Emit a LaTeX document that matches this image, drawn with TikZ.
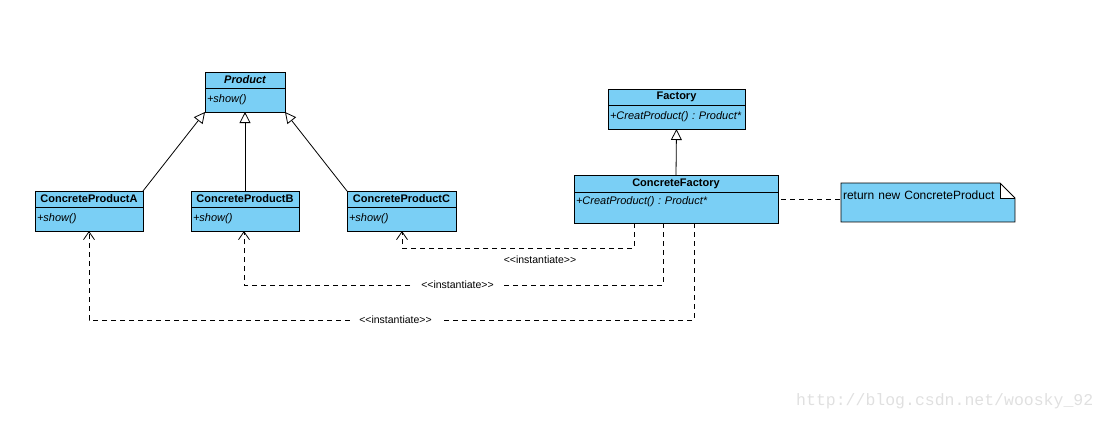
\documentclass[tikz,border=0pt]{standalone}
\usepackage{fontspec}
\setmainfont{Liberation Sans}
\setmonofont{Liberation Mono}
\newfontfamily\stereofont{Liberation Sans}[Ligatures=TeXOff]
\usetikzlibrary{calc,positioning}
\usetikzlibrary{arrows.meta}
\definecolor{umlblue}{RGB}{122,207,245}
\frenchspacing
\begin{document}
\begin{tikzpicture}[x=1pt,y=-1pt,line width=0.8pt,
  chead/.style={draw,fill=umlblue,minimum width=#1,minimum height=16pt,inner sep=0pt,outer sep=0pt,font=\fontsize{11}{12}\selectfont\bfseries},
  cbody/.style={draw,fill=umlblue,text width=#1,minimum height=24pt,inner xsep=2pt,inner ysep=2pt,outer sep=0pt,align=left,font=\fontsize{11}{13}\selectfont\itshape},
  notebox/.style={fill=umlblue,text width=170pt,inner xsep=2pt,inner ysep=2pt,outer sep=0pt,align=left,text height=14pt,text depth=21pt,font=\fontsize{12}{14}\selectfont},
  inherit/.style={-{Triangle[open,length=11pt,width=11pt]}},
  depend/.style={dash pattern=on 5pt off 4pt,-{Straight Barb[length=8pt,width=11pt]}},
  stereo/.style={font=\stereofont\fontsize{10.5}{12}\selectfont,fill=white,inner xsep=9pt,inner ysep=3pt}]
\useasboundingbox (0,0) rectangle (1106,421);
\node[chead=80pt,anchor=north west] (product) at (205,72) {\itshape Product};
\node[cbody=76pt,anchor=north] (productb) at (product.south) {+show()};
\node[chead=108pt,anchor=north west] (cpa) at (35,191) {ConcreteProductA};
\node[cbody=104pt,anchor=north] (cpab) at (cpa.south) {+show()};
\node[chead=108pt,anchor=north west] (cpb) at (191,191) {ConcreteProductB};
\node[cbody=104pt,anchor=north] (cpbb) at (cpb.south) {+show()};
\node[chead=109pt,anchor=north west] (cpc) at (347,191) {ConcreteProductC};
\node[cbody=105pt,anchor=north] (cpcb) at (cpc.south) {+show()};
\node[chead=137pt,anchor=north west] (factory) at (608,89) {Factory};
\node[cbody=133pt,anchor=north] (factoryb) at (factory.south) {+CreatProduct() : Product*};
\node[chead=204pt,anchor=north west,minimum height=17pt] (cf) at (574,175) {ConcreteFactory};
\node[cbody=200pt,anchor=north,minimum height=31pt,text height=10pt,text depth=17pt] (cfb) at (cf.south) {+CreatProduct() : Product*};
\node[notebox,anchor=north west] (note) at (841,183) {return new ConcreteProduct};
\fill[white] ([xshift=-15pt]note.north east) rectangle ([yshift=-15pt]note.north east);
\draw (note.north west) -- ([xshift=-15pt]note.north east) -- ([yshift=-15pt]note.north east) -- (note.south east) -- (note.south west) -- cycle;
\draw ([xshift=-15pt]note.north east) -- ([xshift=-15pt,yshift=-15pt]note.north east) -- ([yshift=-15pt]note.north east);
\draw[inherit] (cpa.north east) -- (productb.south west);
\draw[inherit] (cpb.north) -- (productb.south);
\draw[inherit] (cpc.north west) -- (productb.south east);
\draw[inherit] (cf.north) -- (factoryb.south);
\coordinate (cfout) at ([xshift=3pt,yshift=-7pt]cfb.north east);
\draw[dash pattern=on 5pt off 4pt] (cfout) -- (cfout -| note.west);
\draw[depend] ([xshift=60pt]cfb.south west) -- ++(0,25) -| node[stereo,pos=0.25,below=4pt,xshift=22pt,fill=none]{<<instantiate>>} ([xshift=55pt]cpcb.south west);
\draw[depend] ([xshift=89pt]cfb.south west) -- ++(0,62) -| node[stereo,pos=0.25,xshift=4pt]{<<instantiate>>} ([xshift=53pt]cpbb.south west);
\draw[depend] ([xshift=120pt]cfb.south west) -- ++(0,97) -| node[stereo,pos=0.25,xshift=4pt]{<<instantiate>>} ([xshift=54pt]cpab.south west);
\node[font=\fontsize{16.5}{17}\selectfont\ttfamily,text=black!12,anchor=east] (mark) at (1097,401) {http://blog.csdn.net/woosky\_92};
\end{tikzpicture}
\end{document}
